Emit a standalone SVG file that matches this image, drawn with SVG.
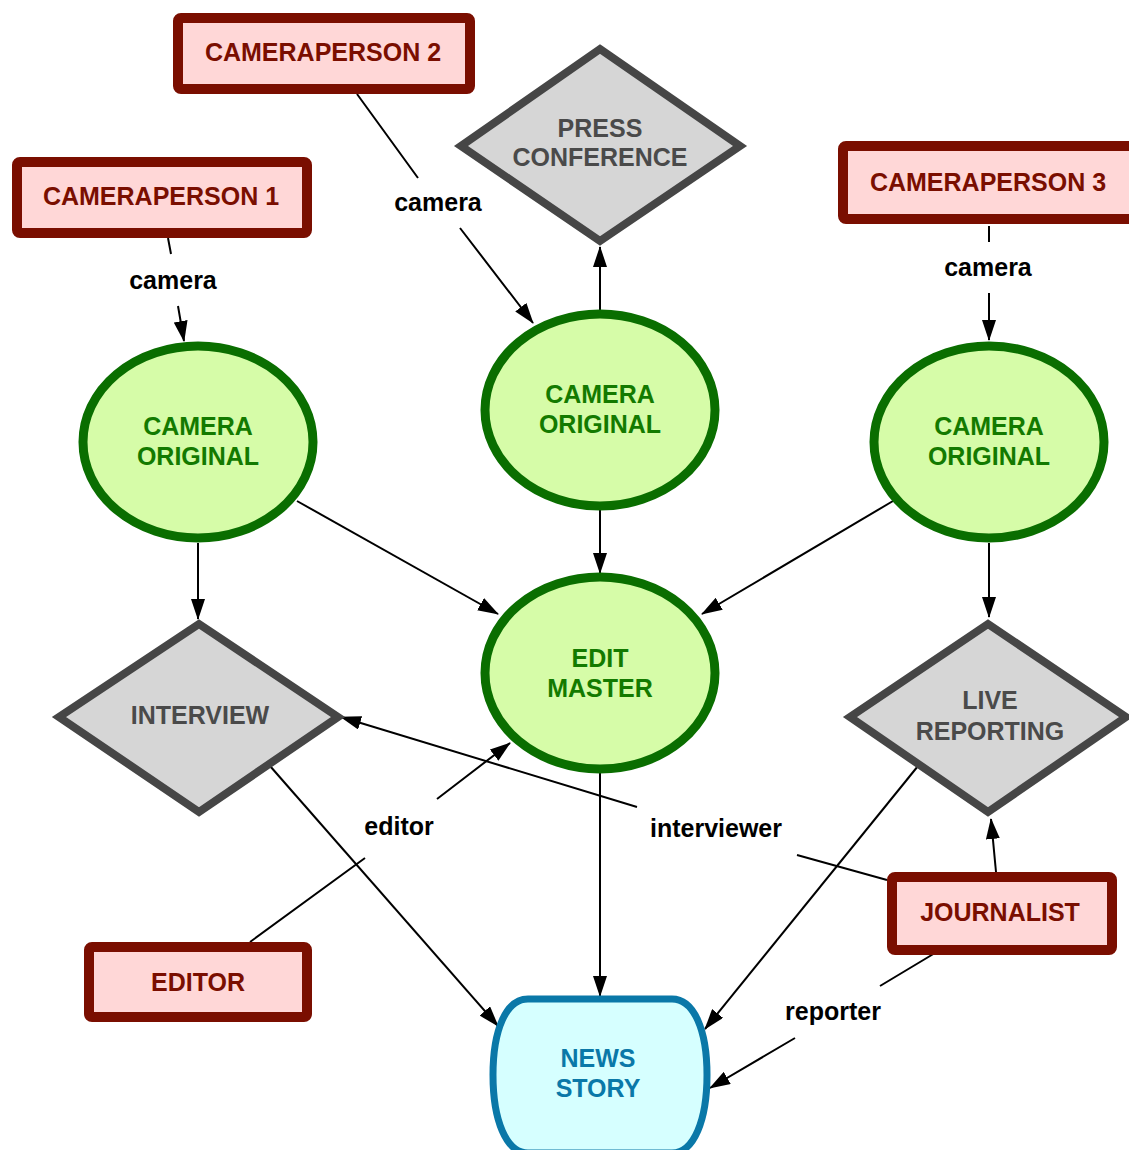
<svg xmlns="http://www.w3.org/2000/svg" width="1129" height="1150" viewBox="0 0 1129 1150">
<style>
text{font-family:"Liberation Sans",Arial,sans-serif;font-weight:bold;font-size:25px;text-anchor:middle}
.person rect{fill:#ffd7d7;stroke:#7a0e00;stroke-width:10}
.person text{fill:#7a0e00}
.event polygon{fill:#d6d6d6;stroke:#464646;stroke-width:8;stroke-linejoin:miter}
.event text{fill:#4a4a4a}
.media ellipse{fill:#d6fca8;stroke:#0a6e00;stroke-width:9}
.media text{fill:#137a00}
.story path{fill:#d6ffff;stroke:#0a78a8;stroke-width:7}
.story text{fill:#0a78a8}
.edges path{fill:none;stroke:#000;stroke-width:2;marker-end:url(#arrow)}
.edges text{fill:#000}
</style>
<defs>
<marker id="arrow" markerUnits="userSpaceOnUse" markerWidth="22" markerHeight="14" refX="20" refY="7" orient="auto">
<path d="M0,0 L21,7 L0,14 z" fill="#000"/>
</marker>
</defs>
<rect width="1129" height="1150" fill="#fff"/>

<g class="edges" id="connectors">
<path d="M168,238 L171,254 M178,306 L184,341"/>
<text x="173" y="289">camera</text>
<path d="M357,94 L418,178 M460,228 L533,323"/>
<text x="438" y="211">camera</text>
<path d="M989,226 L989,242 M989,293 L989,340"/>
<text x="988" y="276">camera</text>
<path d="M600,311 L600,247"/>
<path d="M198,543 L198,619"/>
<path d="M297,501 L498,614"/>
<path d="M600,510 L600,573"/>
<path d="M893,501 L702,614"/>
<path d="M989,543 L989,617"/>
<path d="M600,773 L600,996"/>
<path d="M270,766 L498,1026"/>
<path d="M918,766 L705,1029"/>
<path d="M250,942 L365,858 M437,799 L510,743"/>
<text x="399" y="835">editor</text>
<path d="M887,880 L797,855 M637,807 L341,717"/>
<text x="716" y="837">interviewer</text>
<path d="M996,872 L991,819"/>
<path d="M935,953 L880,986 M795,1038 L710,1088"/>
<text x="833" y="1020">reporter</text>
</g>

<g class="person" id="cameraperson2">
<rect x="178" y="18" width="292" height="71" rx="3"/>
<text x="323" y="61">CAMERAPERSON 2</text>
</g>
<g class="person" id="cameraperson1">
<rect x="17" y="162" width="290" height="71" rx="3"/>
<text x="161" y="205">CAMERAPERSON 1</text>
</g>
<g class="person" id="cameraperson3">
<rect x="843" y="146" width="300" height="73" rx="3"/>
<text x="988" y="191">CAMERAPERSON 3</text>
</g>
<g class="person" id="editor">
<rect x="89" y="947" width="218" height="70" rx="3"/>
<text x="198" y="991">EDITOR</text>
</g>
<g class="person" id="journalist">
<rect x="892" y="877" width="220" height="73" rx="3"/>
<text x="1000" y="921">JOURNALIST</text>
</g>

<g class="event" id="press-conference">
<polygon points="600,49 740,146 600,241 461,146"/>
<text x="600" y="137">PRESS</text>
<text x="600" y="166">CONFERENCE</text>
</g>
<g class="event" id="interview">
<polygon points="199,624 338,717 199,812 59,717"/>
<text x="200" y="724">INTERVIEW</text>
</g>
<g class="event" id="live-reporting">
<polygon points="988,624 1126,717 988,812 850,717"/>
<text x="990" y="709">LIVE</text>
<text x="990" y="740">REPORTING</text>
</g>

<g class="media" id="camera-original-1">
<ellipse cx="198" cy="442" rx="115" ry="96"/>
<text x="198" y="435">CAMERA</text>
<text x="198" y="465">ORIGINAL</text>
</g>
<g class="media" id="camera-original-2">
<ellipse cx="600" cy="410" rx="115" ry="96"/>
<text x="600" y="403">CAMERA</text>
<text x="600" y="433">ORIGINAL</text>
</g>
<g class="media" id="camera-original-3">
<ellipse cx="989" cy="442" rx="115" ry="96"/>
<text x="989" y="435">CAMERA</text>
<text x="989" y="465">ORIGINAL</text>
</g>
<g class="media" id="edit-master">
<ellipse cx="600" cy="673" rx="115" ry="96"/>
<text x="600" y="667">EDIT</text>
<text x="600" y="697">MASTER</text>
</g>

<g class="story" id="news-story">
<path d="M528,999 L672,999 C694,999 707,1030 707,1075 C707,1120 694,1153 672,1153 L528,1153 C506,1153 493,1120 493,1075 C493,1030 506,999 528,999 Z"/>
<text x="598" y="1067">NEWS</text>
<text x="598" y="1097">STORY</text>
</g>
</svg>
